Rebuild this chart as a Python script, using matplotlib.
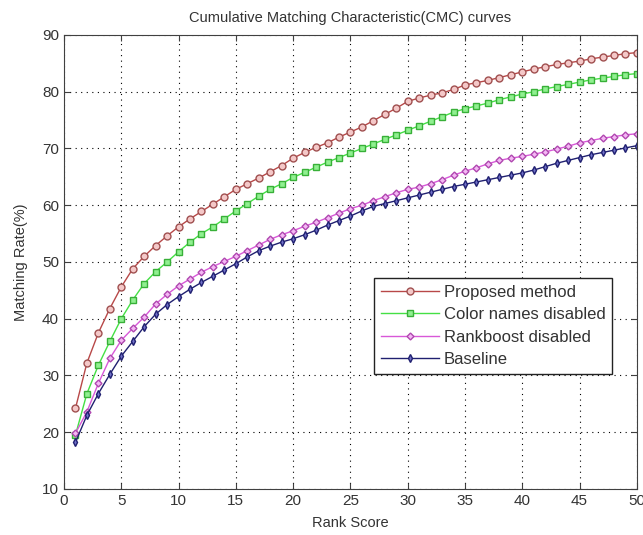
import matplotlib
matplotlib.use("Agg")
import matplotlib.pyplot as plt
import numpy as np

ranks = list(range(1, 51))
proposed = [24.2, 32.2, 37.5, 41.8, 45.6, 48.8, 51.0, 52.9, 54.6, 56.2,
            57.6, 58.9, 60.2, 61.5, 62.8, 63.8, 64.8, 65.9, 67.0, 68.3,
            69.3, 70.2, 71.0, 72.0, 72.9, 73.8, 74.9, 76.0, 77.1, 78.3,
            78.9, 79.4, 79.8, 80.4, 81.2, 81.6, 82.0, 82.5, 83.0, 83.5,
            84.0, 84.4, 84.8, 85.1, 85.4, 85.8, 86.1, 86.4, 86.7, 86.9]
color_disabled = [19.5, 26.8, 31.8, 36.0, 40.0, 43.3, 46.2, 48.3, 50.0, 51.8,
                  53.5, 55.0, 56.2, 57.6, 59.0, 60.3, 61.6, 62.8, 63.8, 64.9,
                  65.8, 66.7, 67.6, 68.4, 69.2, 70.0, 70.8, 71.6, 72.4, 73.2,
                  74.0, 74.8, 75.6, 76.4, 77.0, 77.5, 78.0, 78.6, 79.1, 79.6,
                  80.0, 80.5, 80.9, 81.3, 81.7, 82.1, 82.4, 82.7, 83.0, 83.2]
rankboost_disabled = [19.8, 23.6, 28.6, 33.0, 36.2, 38.3, 40.3, 42.6, 44.3, 45.8,
                      47.0, 48.2, 49.2, 50.1, 51.0, 52.0, 53.0, 54.0, 54.8, 55.5,
                      56.3, 57.0, 57.8, 58.6, 59.4, 60.0, 60.8, 61.5, 62.2, 62.8,
                      63.2, 63.8, 64.5, 65.3, 66.0, 66.6, 67.3, 67.9, 68.3, 68.6,
                      69.0, 69.4, 69.9, 70.4, 71.0, 71.4, 71.8, 72.1, 72.4, 72.6]
baseline = [18.2, 23.0, 26.8, 30.2, 33.4, 36.0, 38.6, 40.8, 42.5, 43.9,
            45.2, 46.4, 47.5, 48.6, 49.7, 50.9, 52.0, 52.8, 53.5, 54.1,
            54.8, 55.6, 56.5, 57.3, 58.1, 59.0, 59.8, 60.3, 60.8, 61.3,
            61.8, 62.3, 62.8, 63.3, 63.7, 64.1, 64.5, 64.9, 65.3, 65.7,
            66.2, 66.8, 67.4, 67.9, 68.4, 68.9, 69.3, 69.7, 70.1, 70.5]

labels = ["Proposed method", "Color names disabled", "Rankboost disabled", "Baseline"]
xticks = [0, 5, 10, 15, 20, 25, 30, 35, 40, 45, 50]
yticks = [10, 20, 30, 40, 50, 60, 70, 80, 90]

plt.rcParams["font.family"] = ["Liberation Sans", "DejaVu Sans"]
txt = "#333333"

fig = plt.figure(figsize=(6.43, 5.35), dpi=100)
ax = fig.add_axes([0.0995, 0.086, 0.891, 0.8486])

styles = [
    dict(color="#b84848", marker="o", mfc="#f4c8c8", mec="#a05050", ms=5),
    dict(color="#44e044", marker="s", mfc="#90f090", mec="#38b038", ms=4.5),
    dict(color="#d858d8", marker="D", mfc="#f4b8f4", mec="#b048b0", ms=3.5),
    dict(color="#202070", marker="d", mfc="#7070c8", mec="#202070", ms=4),
]
for ys, lab, st in zip([proposed, color_disabled, rankboost_disabled, baseline], labels, styles):
    ax.plot(ranks, ys, label=lab, lw=1.0, **st)

ax.set_xlim(0, 50)
ax.set_ylim(10, 90)
ax.set_xticks(xticks)
ax.set_yticks(yticks)
ax.tick_params(direction="in", labelsize=11, top=True, right=True, length=4,
               labelcolor=txt, color="#404040")
ax.grid(True, color="black", linestyle=(0, (1, 4)), lw=0.8)
for s in ax.spines.values():
    s.set_color("#404040")
ax.set_title("Cumulative Matching Characteristic(CMC) curves", fontsize=10.5, pad=9, color=txt)
ax.set_xlabel("Rank Score", fontsize=10.5, labelpad=6, color=txt)
ax.set_ylabel("Matching Rate(%)", fontsize=10.5, labelpad=10, color=txt)

leg = ax.legend(loc="upper left", bbox_to_anchor=(0.541, 0.465), fontsize=12,
                fancybox=False, edgecolor="#222222", framealpha=1,
                handlelength=3.5, borderpad=0.4, labelspacing=0.45, handletextpad=0.3,
                borderaxespad=0)
leg.get_frame().set_linewidth(1.0)
for t in leg.get_texts():
    t.set_color(txt)

fig.savefig("out.png", dpi=100)
